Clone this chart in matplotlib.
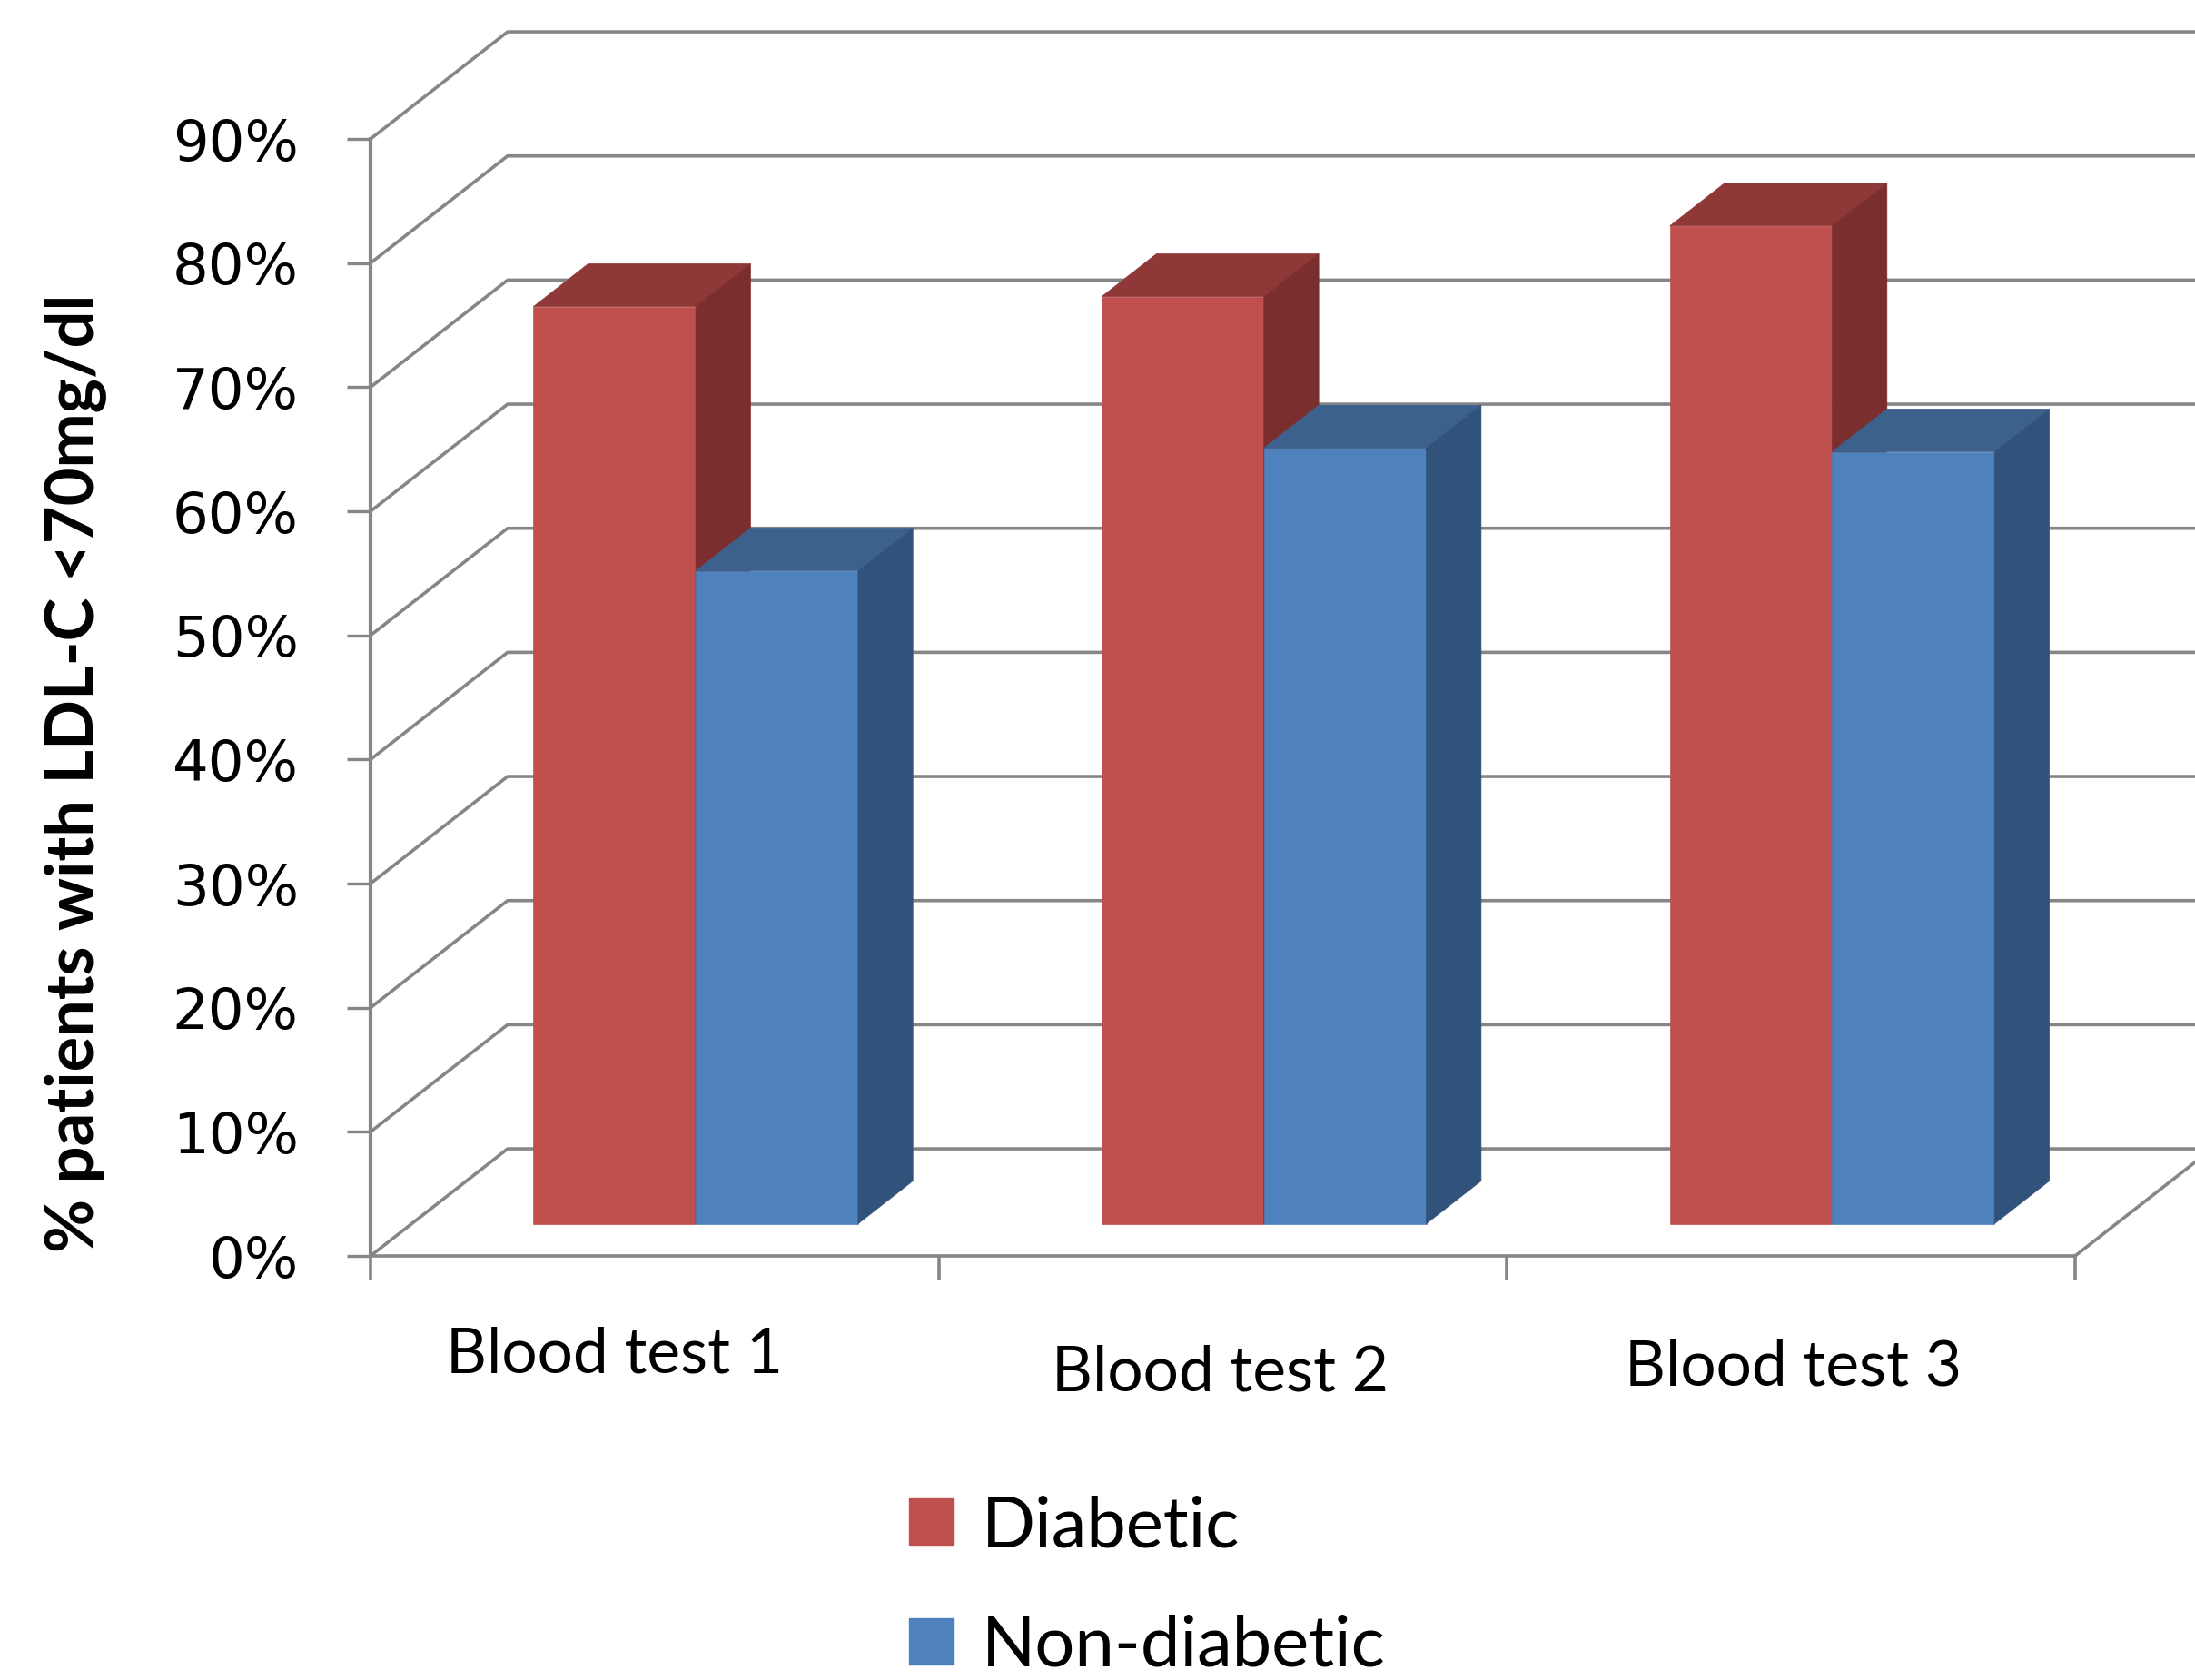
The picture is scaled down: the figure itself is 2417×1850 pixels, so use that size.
import matplotlib
matplotlib.use("Agg")
import matplotlib.pyplot as plt
from matplotlib.patches import Polygon, Patch
from matplotlib.transforms import ScaledTranslation

categories = ["Blood test 1", "Blood test 2", "Blood test 3"]
series_names = ["Diabetic", "Non-diabetic"]
diabetic = [73.9, 74.7, 80.4]
non_diabetic = [52.6, 62.5, 62.2]
y_ticks = list(range(0, 91, 10))
y_tick_labels = [f"{v}%" for v in y_ticks]
y_title = "% patients with LDL-C <70mg/dl"

front_cols = ["#C0504D", "#4F81BD"]
top_cols = ["#8E3837", "#3C618C"]
side_cols = ["#7A2F2E", "#31527A"]
grid_col = "#868686"

# oblique depth offset (x in category units, y in percent)
DX, DY = 0.2412, 8.63
D0, D1 = 0.3, 0.7          # bar front / back depth (gap depth 150%)
W = 1 / 3.5                # bar width (gap width 150%)


def proj(x, v, d):
    return (x + d * DX, v + d * DY)


fig = plt.figure(figsize=(24.17, 18.5), dpi=100)
ax = fig.add_axes([408 / 2417, (1850 - 1383) / 1850,
                   (2285 - 408) / 2417, (1383 - 153) / 1850])
ax.set_xlim(0, len(categories))
ax.set_ylim(0, 90)

# back wall and side wall grid
n = len(categories)
for v in y_ticks:
    xs, ys = zip(proj(0, v, 0), proj(0, v, 1), proj(n + 1, v, 1))
    ax.plot(xs, ys, color=grid_col, lw=2.6, clip_on=False, zorder=1)
xs, ys = zip(proj(n, 0, 0), proj(n, 0, 1))
ax.plot(xs, ys, color=grid_col, lw=2.6, clip_on=False, zorder=1)

# bars
for i in range(n):
    for j, vals in enumerate([diabetic, non_diabetic]):
        v = vals[i]
        x0 = i + 0.5 - W + j * W
        x1 = x0 + W
        front = [proj(x0, 0, D0), proj(x1, 0, D0), proj(x1, v, D0), proj(x0, v, D0)]
        top = [proj(x0, v, D0), proj(x1, v, D0), proj(x1, v, D1), proj(x0, v, D1)]
        side = [proj(x1, 0, D0), proj(x1, 0, D1), proj(x1, v, D1), proj(x1, v, D0)]
        for pts, c in [(front, front_cols[j]), (top, top_cols[j]), (side, side_cols[j])]:
            ax.add_patch(Polygon(pts, closed=True, facecolor=c, edgecolor=c,
                                 lw=0.5, clip_on=False, zorder=3))

# axes styling
for s in ["top", "right"]:
    ax.spines[s].set_visible(False)
ax.spines["left"].set_color(grid_col)
ax.spines["left"].set_linewidth(3.0)
ax.spines["bottom"].set_color(grid_col)
ax.spines["bottom"].set_linewidth(2.6)
ax.set_facecolor("none")

ax.set_yticks(y_ticks)
ax.set_yticklabels(y_tick_labels, fontsize=45, family="DejaVu Sans")
ax.tick_params(axis="y", length=19, width=2.4, color=grid_col, pad=38)

ax.set_xticks(range(n + 1))
ax.set_xticklabels([])
ax.set_xticks([i + 0.5 for i in range(n)], minor=True)
ax.set_xticklabels(categories, minor=True, fontsize=50, family="Lato")
ax.tick_params(axis="x", which="major", length=19, width=2.6, color=grid_col)
ax.tick_params(axis="x", which="minor", length=0, pad=62)

# nudge category labels the way they sit on the slide
nudges = [(-32, 6), (-2, -8), (2, -4)]
for lab, (dx, dy) in zip(ax.get_xticklabels(minor=True), nudges):
    lab.set_transform(lab.get_transform() +
                      ScaledTranslation(dx / 72, dy / 72, fig.dpi_scale_trans))

fig.text(83 / 2417, 1 - 851 / 1850, y_title, rotation=90, ha="center", va="center",
         fontsize=52, family="Lato", fontweight="bold")

handles = [Patch(facecolor=c, edgecolor=c) for c in front_cols]
fig.legend(handles, series_names, loc="upper left",
           bbox_to_anchor=(1001 / 2417, 1 - 1646 / 1850),
           frameon=False, borderpad=0, borderaxespad=0,
           prop={"family": "Lato", "size": 56},
           handlelength=0.63, handleheight=0.63, handletextpad=0.4,
           labelspacing=0.78)

fig.savefig("out.png", dpi=100)
